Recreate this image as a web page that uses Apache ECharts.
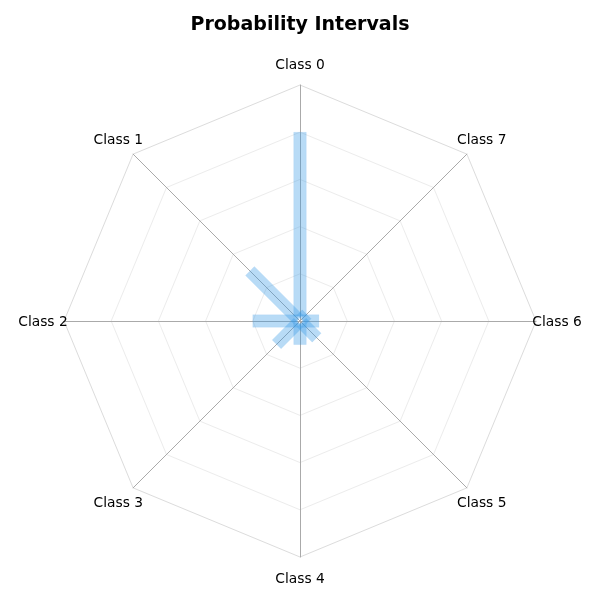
<!DOCTYPE html>
<html>
<head>
<meta charset="utf-8">
<title>Probability Intervals</title>
<script src="https://cdn.jsdelivr.net/npm/echarts@6/dist/echarts.min.js"></script>
<style>
  html, body { margin: 0; padding: 0; background: #fff; }
  #main { width: 600px; height: 600px; }
</style>
</head>
<body>
<div id="main"></div>
<script>
// class names, counter-clockwise from the top
const classNames = ['Class 0', 'Class 1', 'Class 2', 'Class 3', 'Class 4', 'Class 5', 'Class 6', 'Class 7'];
// lower / upper probability of each interval
const lowerBounds = [0.02, 0.01, 0.01, 0.01, 0.01, 0.01, 0.01, 0.01];
const upperBounds = [0.80, 0.30, 0.20, 0.14, 0.10, 0.10, 0.08, 0.04];

(function () {
    let chart = echarts.init(document.getElementById('main'));
    let fontFam = 'DejaVu Sans, sans-serif';

    let center = ['50%', 321];
    let radius = 236;

    // 区间数据 [lower, upper, index]
    let intervalData = classNames.map(function (name, i) {
        return [lowerBounds[i], upperBounds[i], i];
    });
    let labelData = classNames.map(function (name, i) {
        return [i];
    });

    function renderBar(params, api) {
        let idx = api.value(2);
        let p0 = api.coord([api.value(0), idx]);
        let p1 = api.coord([api.value(1), idx]);
        let dx = p1[0] - p0[0], dy = p1[1] - p0[1];
        let len = Math.sqrt(dx * dx + dy * dy) || 1;
        let hw = 6.3; // 半宽
        let nx = -dy / len * hw, ny = dx / len * hw;
        return {
            type: 'polygon',
            shape: {
                points: [
                    [p0[0] + nx, p0[1] + ny],
                    [p1[0] + nx, p1[1] + ny],
                    [p1[0] - nx, p1[1] - ny],
                    [p0[0] - nx, p0[1] - ny]
                ]
            },
            style: {
                fill: 'rgba(51,153,230,0.35)',
                stroke: 'rgba(51,153,230,0.15)',
                lineWidth: 0.5
            }
        };
    }

    function renderLabel(params, api) {
        let i = api.value(0);
        let p = api.coord([1.089, i]);
        return {
            type: 'text',
            x: p[0],
            y: p[1] + 1,
            style: {
                text: classNames[i],
                fill: '#000',
                font: '13.8px ' + fontFam,
                align: 'center',
                verticalAlign: 'middle'
            }
        };
    }

    chart.setOption({
        animation: false,
        backgroundColor: '#fff',
        title: {
            text: 'Probability Intervals',
            left: 'center',
            top: 11,
            textStyle: {
                fontFamily: fontFam,
                fontSize: 19,
                fontWeight: 'bold',
                color: '#000'
            }
        },
        radar: {
            center: center,
            radius: radius,
            startAngle: 90,
            shape: 'polygon',
            splitNumber: 5,
            indicator: classNames.map(function (n) { return { name: n, min: 0, max: 1 }; }),
            axisName: { show: false },
            axisLine: { lineStyle: { color: '#aaaaaa', width: 1 } },
            // 第0圈是中心点，最外圈用深一点的灰
            splitLine: { lineStyle: { color: ['#ececec', '#ececec', '#ececec', '#ececec', '#ececec', '#dcdcdc'], width: 1 } },
            splitArea: { show: false }
        },
        polar: {
            center: center,
            radius: radius
        },
        angleAxis: {
            type: 'value',
            min: 0,
            max: 8,
            startAngle: 90,
            clockwise: false,
            show: false
        },
        radiusAxis: {
            type: 'value',
            min: 0,
            max: 1,
            show: false
        },
        series: [
            {
                name: 'intervals',
                type: 'custom',
                coordinateSystem: 'polar',
                renderItem: renderBar,
                data: intervalData,
                z: 5
            },
            {
                name: 'labels',
                type: 'custom',
                coordinateSystem: 'polar',
                renderItem: renderLabel,
                data: labelData,
                silent: true,
                z: 6
            }
        ]
    });
})();
</script>
</body>
</html>
